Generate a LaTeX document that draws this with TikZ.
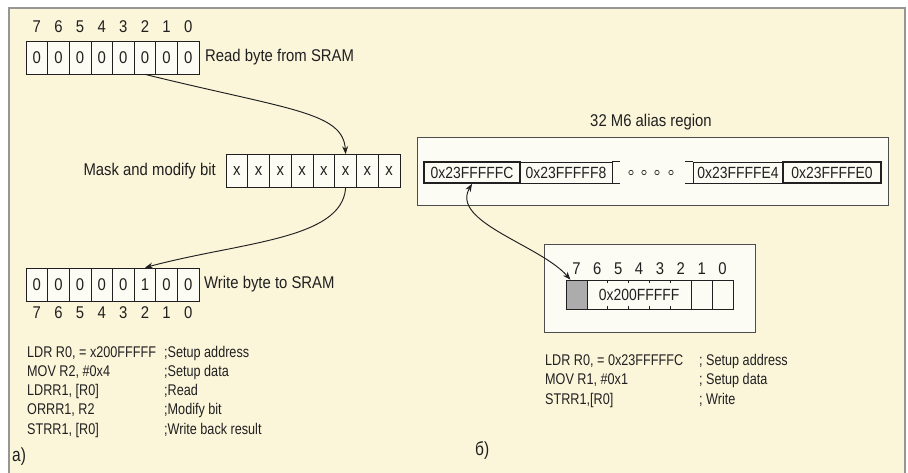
\documentclass[tikz,border=0pt]{standalone}
\usepackage{fontspec}
\setmainfont{Liberation Sans}[FakeStretch=0.875]
\newfontfamily\codefam{Liberation Sans}[FakeStretch=0.815]
\newfontfamily\addrfam{Liberation Sans}[FakeStretch=0.86]
\usetikzlibrary{arrows.meta}
\definecolor{cream}{RGB}{251,245,218}
\definecolor{ink}{RGB}{32,32,32}
\definecolor{boxfill}{RGB}{253,252,244}
\definecolor{frame}{RGB}{150,150,150}
\newcommand{\lbl}{\fontsize{17}{19}\selectfont}
\newcommand{\codef}{\codefam\fontsize{15.5}{18}\selectfont}
\newcommand{\addrf}{\addrfam\fontsize{16.2}{18}\selectfont}
\begin{document}
\begin{tikzpicture}[x=1pt,y=-1pt,
  every node/.style={text=ink},
  cell/.style={draw=ink, line width=0.75pt, fill=boxfill, minimum height=33pt, inner sep=0pt, font=\lbl},
  cellA/.style={cell, minimum width=21.625pt},
  cellB/.style={cell, minimum width=21.75pt},
  bitlbl/.style={font=\lbl, inner sep=0pt},
  txt/.style={font=\lbl, inner sep=0pt},
  code/.style={font=\codef, inner sep=0pt, anchor=base west},
  addr/.style={draw=ink, line width=0.65pt, fill=boxfill, minimum height=21pt, inner sep=0pt, font=\addrf},
  addrb/.style={addr, line width=1.6pt},
  smallcell/.style={draw=ink, line width=0.65pt, fill=boxfill, minimum height=29pt, minimum width=20.875pt, inner sep=0pt},
  arr/.style={draw=ink, line width=0.95pt, -{Stealth[length=8pt,width=6pt]}},
  darr/.style={draw=ink, line width=0.95pt, {Stealth[length=8pt,width=6pt]}-{Stealth[length=8pt,width=6pt]}}
]
\useasboundingbox (0,0) rectangle (908,473);
\fill[white] (0,0) rectangle (908,473);
\fill[cream] (9,8) rectangle (905,473);
\draw[frame, line width=1.3pt] (9,473) -- (9,8) -- (905,8) -- (905,473);

% ---- a) top register
\foreach \b in {7,...,0} {
  \pgfmathsetmacro{\xx}{26+(7-\b+0.5)*21.625}
  \node[cellA] (t\b) at (\xx,57.5) {0};
  \node[bitlbl] (tl\b) at (\xx,27) {\b};
}
\node[txt, anchor=west] (tread) at (205,57.5) {Read byte from SRAM};

% ---- middle register
\foreach \b in {7,...,0} {
  \pgfmathsetmacro{\xx}{226+(7-\b+0.5)*21.75}
  \node[cellB] (m\b) at (\xx,171) {x};
}
\node[txt, anchor=east] (tmask) at (216,171) {Mask and modify bit};

% ---- bottom register
\foreach \b/\v in {7/0,6/0,5/0,4/0,3/0,2/1,1/0,0/0} {
  \pgfmathsetmacro{\xx}{26+(7-\b+0.5)*21.625}
  \node[cellA] (b\b) at (\xx,284.5) {\v};
  \node[bitlbl] (bl\b) at (\xx,313) {\b};
}
\node[txt, anchor=west] (twrite) at (204,284.5) {Write byte to SRAM};

% arrows a)
\draw[arr] (t2.south) .. controls (290,110) and (343,112) .. (m2.north);
\draw[arr] (m2.south) .. controls (342,240) and (240,242) .. (b2.north);

% code a)
\node[code] (la1) at (27,357) {LDR R0, = x200FFFFF};
\node[code] (la2) at (27,376.3) {MOV R2, \#0x4};
\node[code] (la3) at (27,395.6) {LDRR1, [R0]};
\node[code] (la4) at (27,414.9) {ORRR1, R2};
\node[code] (la5) at (27,434.2) {STRR1, [R0]};
\node[code] (ca1) at (164,357) {;Setup address};
\node[code] (ca2) at (164,376.3) {;Setup data};
\node[code] (ca3) at (164,395.6) {;Read};
\node[code] (ca4) at (164,414.9) {;Modify bit};
\node[code] (ca5) at (164,434.2) {;Write back result};
\node[code, font=\codefam\fontsize{19}{21}\selectfont] (capa) at (12,461) {a)};

% ---- b) alias region
\node[txt] (ttitle) at (651,122) {32 M6 alias region};
\draw[draw=ink!80, line width=0.75pt, fill=boxfill] (417,137) rectangle (888,205);
\node[addrb, minimum width=96pt] (a1) at (472,172.5) {0x23FFFFFC};
\node[addr, minimum width=92pt] (a2) at (566,172.5) {0x23FFFFF8};
\draw[ink, line width=0.65pt] (a2.north east) -- ++(8,0) (a2.south east) -- ++(8,0);
\node[addr, minimum width=90pt] (a3) at (738,172.5) {0x23FFFFE4};
\draw[ink, line width=0.65pt] (a3.north west) -- ++(-8,0) (a3.south west) -- ++(-8,0);
\node[addrb, minimum width=98pt] (a4) at (832,172.5) {0x23FFFFE0};
\foreach \cx in {631,644,657,671} {
  \draw[ink, line width=0.65pt] (\cx,172.5) circle (2.2);
}

% inner register box
\draw[draw=ink!80, line width=0.75pt, fill=boxfill] (544,244) rectangle (755,332);
\foreach \b in {7,...,0} {
  \pgfmathsetmacro{\xx}{566+(7-\b+0.5)*20.875}
  \node[bitlbl] (il\b) at (\xx,269) {\b};
}
\node[smallcell, fill=gray!65] (c7) at ({566+0.5*20.875},294.5) {};
\node[smallcell, minimum width=104.375pt, font=\addrf] (cm) at ({566+20.875+2.5*20.875},294.5) {0x200FFFFF};
\node[smallcell] (c1) at ({566+6.5*20.875},294.5) {};
\node[smallcell] (c0) at ({566+7.5*20.875},294.5) {};
\foreach \k in {1,2,3,4} {
  \draw[ink, line width=0.65pt] ({566+20.875+\k*20.875},280) -- ++(0,3.5);
  \draw[ink, line width=0.65pt] ({566+20.875+\k*20.875},309) -- ++(0,-3.5);
}
\draw[darr] (a1.south) .. controls (450,222) and (540,245) .. ([xshift=-6pt]c7.north);

% code b)
\node[code] (lb1) at (545,365) {LDR R0, = 0x23FFFFFC};
\node[code] (lb2) at (545,384.5) {MOV R1, \#0x1};
\node[code] (lb3) at (545,404) {STRR1,[R0]};
\node[code] (cb1) at (699,365) {; Setup address};
\node[code] (cb2) at (699,384.5) {; Setup data};
\node[code] (cb3) at (699,404) {; Write};
\node[code, font=\codefam\fontsize{19}{21}\selectfont] (capb) at (475,455) {б)};
\end{tikzpicture}
\end{document}
